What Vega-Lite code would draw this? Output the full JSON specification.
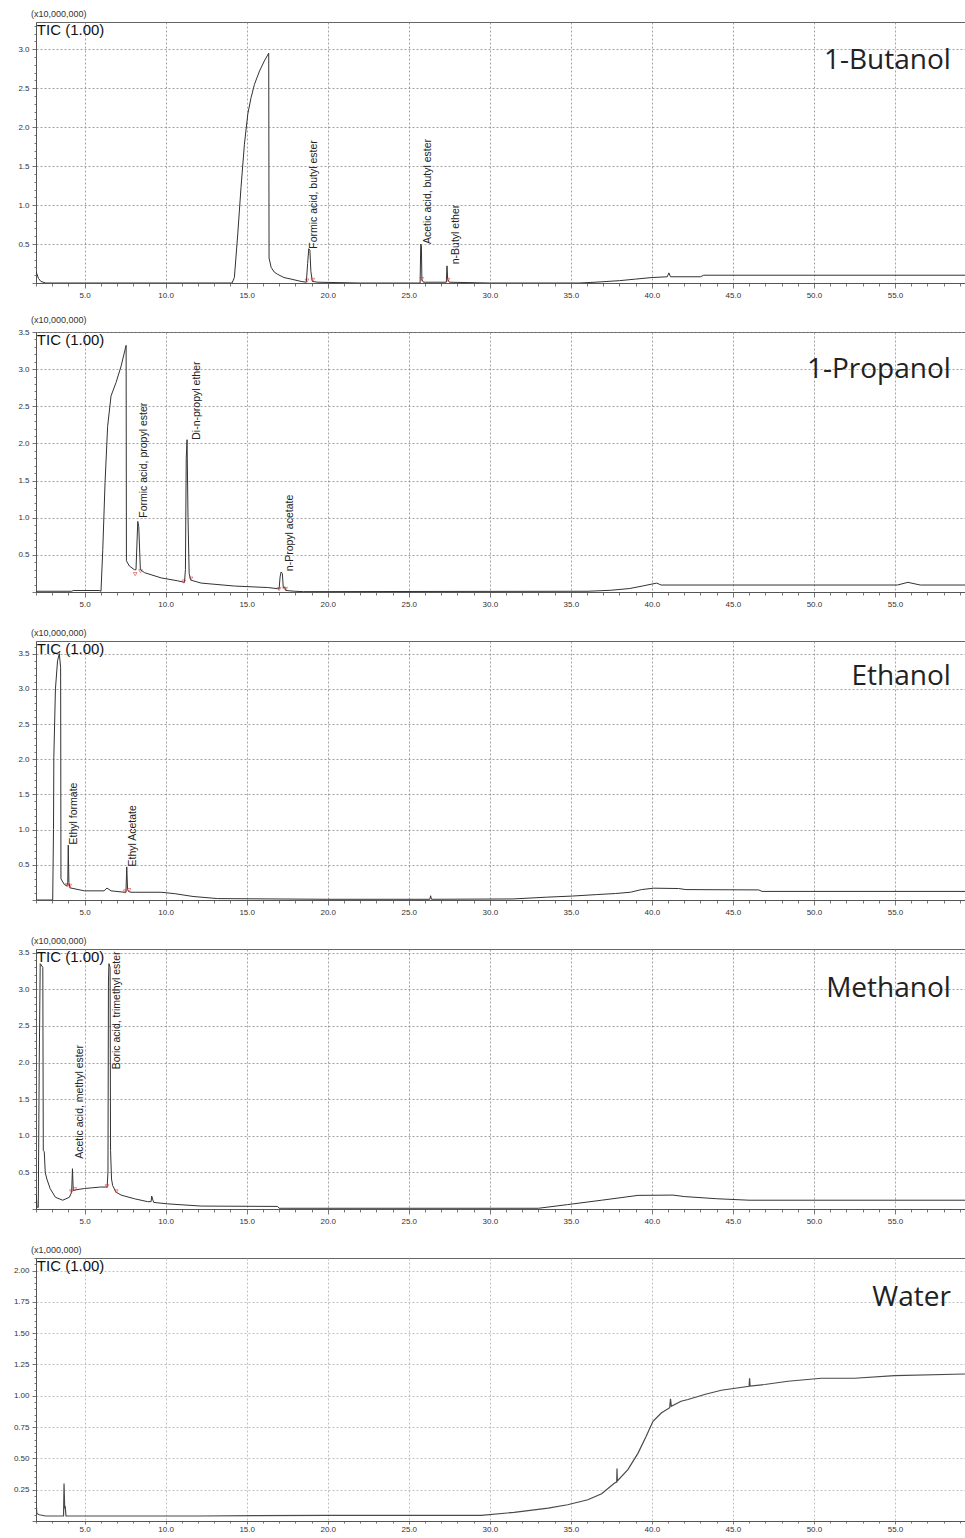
{
  "$schema": "https://vega.github.io/schema/vega-lite/v6.json",
  "background": "white",
  "padding": {"left": 5, "top": 9, "right": 0, "bottom": 0},
  "bounds": "flush",
  "spacing": 49,
  "datasets": {
    "butanol": [
      {"t":2.0,"v":0.15},{"t":2.05,"v":0.12},{"t":2.15,"v":0.06},{"t":2.3,"v":0.02},{"t":2.6,"v":0.0},{"t":6.0,"v":0.0},{"t":12.0,"v":0.0},{"t":14.1,"v":0.0},{"t":14.24,"v":0.07},{"t":14.45,"v":0.63},{"t":14.65,"v":1.23},{"t":14.86,"v":1.78},{"t":15.07,"v":2.17},{"t":15.27,"v":2.38},{"t":15.48,"v":2.55},{"t":15.79,"v":2.72},{"t":16.09,"v":2.85},{"t":16.36,"v":2.95},{"t":16.38,"v":0.32},{"t":16.51,"v":0.2},{"t":16.7,"v":0.14},{"t":16.92,"v":0.11},{"t":17.3,"v":0.07},{"t":17.74,"v":0.05},{"t":18.36,"v":0.02},{"t":18.68,"v":0.01},{"t":18.76,"v":0.25},{"t":18.83,"v":0.44},{"t":18.9,"v":0.42},{"t":18.96,"v":0.15},{"t":19.05,"v":0.02},{"t":19.4,"v":0.01},{"t":22.0,"v":0.0},{"t":25.7,"v":0.0},{"t":25.74,"v":0.5},{"t":25.78,"v":0.48},{"t":25.81,"v":0.04},{"t":25.9,"v":0.01},{"t":27.32,"v":0.01},{"t":27.36,"v":0.22},{"t":27.4,"v":0.05},{"t":27.5,"v":0.01},{"t":30.0,"v":0.0},{"t":35.5,"v":0.0},{"t":36.5,"v":0.01},{"t":38.0,"v":0.03},{"t":39.0,"v":0.05},{"t":40.0,"v":0.07},{"t":40.95,"v":0.08},{"t":41.05,"v":0.13},{"t":41.15,"v":0.08},{"t":43.0,"v":0.08},{"t":43.2,"v":0.1},{"t":50.0,"v":0.1},{"t":60.0,"v":0.1}
    ],
    "butanol_red": [
      {"t":18.72,"v":0.03},{"t":19.08,"v":0.04},{"t":25.8,"v":0.05},{"t":27.42,"v":0.04}
    ],
    "butanol_txt": [
      {"t":19.16,"v":0.44,"label":"Formic acid, butyl ester"},
      {"t":26.2,"v":0.5,"label":"Acetic acid, butyl ester"},
      {"t":27.93,"v":0.24,"label":"n-Butyl ether"}
    ],
    "propanol": [
      {"t":2.0,"v":0.01},{"t":4.2,"v":0.01},{"t":4.3,"v":0.02},{"t":5.9,"v":0.02},{"t":6.01,"v":0.01},{"t":6.12,"v":0.57},{"t":6.26,"v":1.47},{"t":6.42,"v":2.23},{"t":6.63,"v":2.64},{"t":6.94,"v":2.82},{"t":7.25,"v":3.04},{"t":7.56,"v":3.32},{"t":7.58,"v":0.42},{"t":7.76,"v":0.35},{"t":8.07,"v":0.3},{"t":8.17,"v":0.3},{"t":8.28,"v":0.95},{"t":8.34,"v":0.88},{"t":8.44,"v":0.3},{"t":8.7,"v":0.26},{"t":9.72,"v":0.19},{"t":10.75,"v":0.15},{"t":11.16,"v":0.13},{"t":11.22,"v":0.3},{"t":11.27,"v":1.8},{"t":11.32,"v":2.05},{"t":11.38,"v":1.0},{"t":11.45,"v":0.25},{"t":11.55,"v":0.16},{"t":12.19,"v":0.12},{"t":14.25,"v":0.08},{"t":16.3,"v":0.06},{"t":16.91,"v":0.045},{"t":17.0,"v":0.04},{"t":17.06,"v":0.2},{"t":17.12,"v":0.27},{"t":17.2,"v":0.25},{"t":17.26,"v":0.05},{"t":17.34,"v":0.07},{"t":17.42,"v":0.02},{"t":17.95,"v":0.01},{"t":18.5,"v":0.005},{"t":36.06,"v":0.01},{"t":37.46,"v":0.023},{"t":38.64,"v":0.047},{"t":39.5,"v":0.084},{"t":40.3,"v":0.12},{"t":40.57,"v":0.094},{"t":55.15,"v":0.094},{"t":55.8,"v":0.13},{"t":56.56,"v":0.094},{"t":60.0,"v":0.094}
    ],
    "propanol_red": [
      {"t":8.12,"v":0.24},{"t":8.45,"v":0.28},{"t":11.12,"v":0.14},{"t":11.56,"v":0.18},{"t":17.0,"v":0.04},{"t":17.4,"v":0.04}
    ],
    "propanol_txt": [
      {"t":8.69,"v":1.0,"label":"Formic acid, propyl ester"},
      {"t":11.96,"v":2.05,"label":"Di-n-propyl ether"},
      {"t":17.68,"v":0.28,"label":"n-Propyl acetate"}
    ],
    "ethanol": [
      {"t":2.0,"v":0.0},{"t":3.03,"v":0.0},{"t":3.08,"v":1.0},{"t":3.1,"v":2.02},{"t":3.2,"v":3.0},{"t":3.33,"v":3.4},{"t":3.44,"v":3.5},{"t":3.52,"v":3.3},{"t":3.54,"v":0.3},{"t":3.75,"v":0.22},{"t":3.91,"v":0.2},{"t":3.96,"v":0.25},{"t":3.99,"v":0.78},{"t":4.03,"v":0.25},{"t":4.1,"v":0.17},{"t":4.16,"v":0.17},{"t":4.98,"v":0.13},{"t":6.2,"v":0.13},{"t":6.38,"v":0.17},{"t":6.63,"v":0.13},{"t":7.45,"v":0.11},{"t":7.55,"v":0.11},{"t":7.6,"v":0.47},{"t":7.65,"v":0.15},{"t":7.72,"v":0.12},{"t":7.86,"v":0.11},{"t":9.72,"v":0.11},{"t":10.56,"v":0.09},{"t":11.69,"v":0.05},{"t":13.2,"v":0.02},{"t":20.0,"v":0.01},{"t":26.3,"v":0.01},{"t":26.35,"v":0.06},{"t":26.4,"v":0.01},{"t":31.44,"v":0.015},{"t":33.5,"v":0.04},{"t":35.1,"v":0.056},{"t":36.6,"v":0.077},{"t":37.75,"v":0.092},{"t":38.67,"v":0.11},{"t":39.36,"v":0.148},{"t":40.12,"v":0.168},{"t":41.65,"v":0.163},{"t":42.1,"v":0.148},{"t":46.6,"v":0.143},{"t":46.8,"v":0.122},{"t":60.0,"v":0.122}
    ],
    "ethanol_red": [
      {"t":3.92,"v":0.21},{"t":4.08,"v":0.2},{"t":7.5,"v":0.12},{"t":7.74,"v":0.14}
    ],
    "ethanol_txt": [
      {"t":4.33,"v":0.79,"label":"Ethyl formate"},
      {"t":7.97,"v":0.476,"label":"Ethyl Acetate"}
    ],
    "methanol": [
      {"t":2.0,"v":0.0},{"t":2.02,"v":0.19},{"t":2.06,"v":0.03},{"t":2.14,"v":0.02},{"t":2.2,"v":2.0},{"t":2.26,"v":3.35},{"t":2.42,"v":3.3},{"t":2.45,"v":0.8},{"t":2.51,"v":0.78},{"t":2.57,"v":0.5},{"t":2.67,"v":0.41},{"t":2.87,"v":0.28},{"t":3.2,"v":0.16},{"t":3.65,"v":0.12},{"t":4.06,"v":0.16},{"t":4.2,"v":0.23},{"t":4.25,"v":0.55},{"t":4.3,"v":0.25},{"t":4.41,"v":0.26},{"t":5.0,"v":0.28},{"t":5.5,"v":0.29},{"t":6.0,"v":0.3},{"t":6.39,"v":0.3},{"t":6.44,"v":0.5},{"t":6.47,"v":3.1},{"t":6.5,"v":3.35},{"t":6.57,"v":3.3},{"t":6.6,"v":0.8},{"t":6.66,"v":0.41},{"t":6.73,"v":0.32},{"t":6.94,"v":0.23},{"t":7.25,"v":0.19},{"t":8.07,"v":0.14},{"t":8.89,"v":0.1},{"t":9.1,"v":0.1},{"t":9.14,"v":0.176},{"t":9.26,"v":0.09},{"t":10.13,"v":0.07},{"t":12.19,"v":0.04},{"t":16.91,"v":0.035},{"t":17.0,"v":0.01},{"t":33.0,"v":0.01},{"t":34.8,"v":0.06},{"t":36.9,"v":0.12},{"t":38.1,"v":0.155},{"t":39.14,"v":0.186},{"t":41.3,"v":0.19},{"t":42.0,"v":0.17},{"t":44.0,"v":0.14},{"t":46.0,"v":0.12},{"t":60.0,"v":0.12}
    ],
    "methanol_red": [
      {"t":4.18,"v":0.24},{"t":4.4,"v":0.27},{"t":6.38,"v":0.31},{"t":6.95,"v":0.24}
    ],
    "methanol_txt": [
      {"t":4.74,"v":0.686,"label":"Acetic acid, methyl ester"},
      {"t":6.98,"v":1.907,"label":"Boric acid, trimethyl ester"}
    ],
    "water": [
      {"t":2.0,"v":0.17},{"t":2.05,"v":0.06},{"t":2.2,"v":0.05},{"t":2.6,"v":0.04},{"t":3.7,"v":0.04},{"t":3.73,"v":0.3},{"t":3.77,"v":0.1},{"t":3.8,"v":0.12},{"t":3.85,"v":0.04},{"t":8.0,"v":0.04},{"t":12.0,"v":0.04},{"t":20.0,"v":0.045},{"t":29.47,"v":0.045},{"t":31.5,"v":0.069},{"t":33.6,"v":0.103},{"t":34.8,"v":0.13},{"t":36.05,"v":0.17},{"t":36.9,"v":0.218},{"t":37.7,"v":0.303},{"t":37.83,"v":0.31},{"t":37.85,"v":0.42},{"t":37.87,"v":0.32},{"t":38.52,"v":0.41},{"t":39.14,"v":0.54},{"t":39.65,"v":0.676},{"t":40.07,"v":0.796},{"t":40.58,"v":0.862},{"t":41.1,"v":0.905},{"t":41.15,"v":0.975},{"t":41.2,"v":0.916},{"t":41.8,"v":0.956},{"t":42.23,"v":0.97},{"t":43.25,"v":1.01},{"t":44.28,"v":1.044},{"t":46.0,"v":1.076},{"t":46.03,"v":1.14},{"t":46.06,"v":1.078},{"t":46.96,"v":1.09},{"t":48.4,"v":1.116},{"t":50.46,"v":1.14},{"t":52.5,"v":1.14},{"t":54.98,"v":1.16},{"t":60.0,"v":1.176}
    ]
  },
  "vconcat": [
    {
      "width": 940, "height": 261,
      "title": {"text": "(x10,000,000)"},
      "encoding": {
        "x": {"field": "t", "type": "quantitative", "title": null,
          "scale": {"domain": [2, 60], "nice": false, "zero": false},
          "axis": {"values": [2,3,4,5,6,7,8,9,10,11,12,13,14,15,16,17,18,19,20,21,22,23,24,25,26,27,28,29,30,31,32,33,34,35,36,37,38,39,40,41,42,43,44,45,46,47,48,49,50,51,52,53,54,55,56,57,58,59],
            "labelExpr": "datum.value % 5 === 0 ? format(datum.value, '.1f') : ''",
            "tickSize": {"condition": {"test": "datum.value % 5 === 0", "value": 5}, "value": 3},
            "gridOpacity": {"condition": {"test": "datum.value % 5 === 0", "value": 1}, "value": 0}}},
        "y": {"field": "v", "type": "quantitative", "title": null,
          "scale": {"domain": [0, 3.35], "nice": false},
          "axis": {"values": [0,0.1,0.2,0.3,0.4,0.5,0.6,0.7,0.8,0.9,1.0,1.1,1.2,1.3,1.4,1.5,1.6,1.7,1.8,1.9,2.0,2.1,2.2,2.3,2.4,2.5,2.6,2.7,2.8,2.9,3.0,3.1,3.2,3.3],
            "labelExpr": "datum.value > 0.01 && round(datum.value * 10) % 5 === 0 ? format(datum.value, '.1f') : ''",
            "tickSize": {"condition": {"test": "round(datum.value * 10) % 5 === 0", "value": 4}, "value": 2},
            "gridOpacity": {"condition": {"test": "datum.value > 0.01 && round(datum.value * 10) % 5 === 0", "value": 1}, "value": 0}}}
      },
      "layer": [
        {"data": {"name": "butanol"}, "mark": {"type": "line", "clip": true, "color": "#333333", "strokeWidth": 1}},
        {"data": {"name": "butanol_red"}, "mark": {"type": "point", "shape": "triangle-down", "filled": false, "color": "#e03030", "size": 14, "strokeWidth": 0.8}},
        {"data": {"name": "butanol_txt"}, "mark": {"type": "text", "angle": 270, "align": "left", "baseline": "middle", "font": "Liberation Sans", "fontSize": 10.5, "color": "#222222"}, "encoding": {"text": {"field": "label"}}},
        {"data": {"values": [{"t": 2.05, "v": 3.35, "label": "TIC (1.00)"}]}, "mark": {"type": "text", "align": "left", "baseline": "top", "font": "Liberation Sans", "fontSize": 15, "color": "#111111", "dy": 1}, "encoding": {"text": {"field": "label"}}},
        {"data": {"values": [{"t": 58.45, "v": 2.75, "label": "1-Butanol"}]}, "mark": {"type": "text", "align": "right", "baseline": "alphabetic", "font": "Open Sans", "fontSize": 28, "color": "#222222"}, "encoding": {"text": {"field": "label"}}}
      ]
    },
    {
      "width": 940, "height": 260,
      "title": {"text": "(x10,000,000)"},
      "encoding": {
        "x": {"field": "t", "type": "quantitative", "title": null,
          "scale": {"domain": [2, 60], "nice": false, "zero": false},
          "axis": {"values": [2,3,4,5,6,7,8,9,10,11,12,13,14,15,16,17,18,19,20,21,22,23,24,25,26,27,28,29,30,31,32,33,34,35,36,37,38,39,40,41,42,43,44,45,46,47,48,49,50,51,52,53,54,55,56,57,58,59],
            "labelExpr": "datum.value % 5 === 0 ? format(datum.value, '.1f') : ''",
            "tickSize": {"condition": {"test": "datum.value % 5 === 0", "value": 5}, "value": 3},
            "gridOpacity": {"condition": {"test": "datum.value % 5 === 0", "value": 1}, "value": 0}}},
        "y": {"field": "v", "type": "quantitative", "title": null,
          "scale": {"domain": [0, 3.5], "nice": false},
          "axis": {"values": [0,0.1,0.2,0.3,0.4,0.5,0.6,0.7,0.8,0.9,1.0,1.1,1.2,1.3,1.4,1.5,1.6,1.7,1.8,1.9,2.0,2.1,2.2,2.3,2.4,2.5,2.6,2.7,2.8,2.9,3.0,3.1,3.2,3.3,3.4,3.5],
            "labelExpr": "datum.value > 0.01 && round(datum.value * 10) % 5 === 0 ? format(datum.value, '.1f') : ''",
            "tickSize": {"condition": {"test": "round(datum.value * 10) % 5 === 0", "value": 4}, "value": 2},
            "gridOpacity": {"condition": {"test": "datum.value > 0.01 && round(datum.value * 10) % 5 === 0", "value": 1}, "value": 0}}}
      },
      "layer": [
        {"data": {"name": "propanol"}, "mark": {"type": "line", "clip": true, "color": "#333333", "strokeWidth": 1}},
        {"data": {"name": "propanol_red"}, "mark": {"type": "point", "shape": "triangle-down", "filled": false, "color": "#e03030", "size": 14, "strokeWidth": 0.8}},
        {"data": {"name": "propanol_txt"}, "mark": {"type": "text", "angle": 270, "align": "left", "baseline": "middle", "font": "Liberation Sans", "fontSize": 10.5, "color": "#222222"}, "encoding": {"text": {"field": "label"}}},
        {"data": {"values": [{"t": 2.05, "v": 3.5, "label": "TIC (1.00)"}]}, "mark": {"type": "text", "align": "left", "baseline": "top", "font": "Liberation Sans", "fontSize": 15, "color": "#111111", "dy": 1}, "encoding": {"text": {"field": "label"}}},
        {"data": {"values": [{"t": 58.45, "v": 2.88, "label": "1-Propanol"}]}, "mark": {"type": "text", "align": "right", "baseline": "alphabetic", "font": "Open Sans", "fontSize": 28, "color": "#222222"}, "encoding": {"text": {"field": "label"}}}
      ]
    },
    {
      "width": 940, "height": 259,
      "title": {"text": "(x10,000,000)"},
      "encoding": {
        "x": {"field": "t", "type": "quantitative", "title": null,
          "scale": {"domain": [2, 60], "nice": false, "zero": false},
          "axis": {"values": [2,3,4,5,6,7,8,9,10,11,12,13,14,15,16,17,18,19,20,21,22,23,24,25,26,27,28,29,30,31,32,33,34,35,36,37,38,39,40,41,42,43,44,45,46,47,48,49,50,51,52,53,54,55,56,57,58,59],
            "labelExpr": "datum.value % 5 === 0 ? format(datum.value, '.1f') : ''",
            "tickSize": {"condition": {"test": "datum.value % 5 === 0", "value": 5}, "value": 3},
            "gridOpacity": {"condition": {"test": "datum.value % 5 === 0", "value": 1}, "value": 0}}},
        "y": {"field": "v", "type": "quantitative", "title": null,
          "scale": {"domain": [0, 3.68], "nice": false},
          "axis": {"values": [0,0.1,0.2,0.3,0.4,0.5,0.6,0.7,0.8,0.9,1.0,1.1,1.2,1.3,1.4,1.5,1.6,1.7,1.8,1.9,2.0,2.1,2.2,2.3,2.4,2.5,2.6,2.7,2.8,2.9,3.0,3.1,3.2,3.3,3.4,3.5,3.6],
            "labelExpr": "datum.value > 0.01 && round(datum.value * 10) % 5 === 0 ? format(datum.value, '.1f') : ''",
            "tickSize": {"condition": {"test": "round(datum.value * 10) % 5 === 0", "value": 4}, "value": 2},
            "gridOpacity": {"condition": {"test": "datum.value > 0.01 && round(datum.value * 10) % 5 === 0", "value": 1}, "value": 0}}}
      },
      "layer": [
        {"data": {"name": "ethanol"}, "mark": {"type": "line", "clip": true, "color": "#333333", "strokeWidth": 1}},
        {"data": {"name": "ethanol_red"}, "mark": {"type": "point", "shape": "triangle-down", "filled": false, "color": "#e03030", "size": 14, "strokeWidth": 0.8}},
        {"data": {"name": "ethanol_txt"}, "mark": {"type": "text", "angle": 270, "align": "left", "baseline": "middle", "font": "Liberation Sans", "fontSize": 10.5, "color": "#222222"}, "encoding": {"text": {"field": "label"}}},
        {"data": {"values": [{"t": 2.05, "v": 3.68, "label": "TIC (1.00)"}]}, "mark": {"type": "text", "align": "left", "baseline": "top", "font": "Liberation Sans", "fontSize": 15, "color": "#111111", "dy": 1}, "encoding": {"text": {"field": "label"}}},
        {"data": {"values": [{"t": 58.45, "v": 3.05, "label": "Ethanol"}]}, "mark": {"type": "text", "align": "right", "baseline": "alphabetic", "font": "Open Sans", "fontSize": 28, "color": "#222222"}, "encoding": {"text": {"field": "label"}}}
      ]
    },
    {
      "width": 940, "height": 260,
      "title": {"text": "(x10,000,000)"},
      "encoding": {
        "x": {"field": "t", "type": "quantitative", "title": null,
          "scale": {"domain": [2, 60], "nice": false, "zero": false},
          "axis": {"values": [2,3,4,5,6,7,8,9,10,11,12,13,14,15,16,17,18,19,20,21,22,23,24,25,26,27,28,29,30,31,32,33,34,35,36,37,38,39,40,41,42,43,44,45,46,47,48,49,50,51,52,53,54,55,56,57,58,59],
            "labelExpr": "datum.value % 5 === 0 ? format(datum.value, '.1f') : ''",
            "tickSize": {"condition": {"test": "datum.value % 5 === 0", "value": 5}, "value": 3},
            "gridOpacity": {"condition": {"test": "datum.value % 5 === 0", "value": 1}, "value": 0}}},
        "y": {"field": "v", "type": "quantitative", "title": null,
          "scale": {"domain": [0, 3.55], "nice": false},
          "axis": {"values": [0,0.1,0.2,0.3,0.4,0.5,0.6,0.7,0.8,0.9,1.0,1.1,1.2,1.3,1.4,1.5,1.6,1.7,1.8,1.9,2.0,2.1,2.2,2.3,2.4,2.5,2.6,2.7,2.8,2.9,3.0,3.1,3.2,3.3,3.4,3.5],
            "labelExpr": "datum.value > 0.01 && round(datum.value * 10) % 5 === 0 ? format(datum.value, '.1f') : ''",
            "tickSize": {"condition": {"test": "round(datum.value * 10) % 5 === 0", "value": 4}, "value": 2},
            "gridOpacity": {"condition": {"test": "datum.value > 0.01 && round(datum.value * 10) % 5 === 0", "value": 1}, "value": 0}}}
      },
      "layer": [
        {"data": {"name": "methanol"}, "mark": {"type": "line", "clip": true, "color": "#333333", "strokeWidth": 1}},
        {"data": {"name": "methanol_red"}, "mark": {"type": "point", "shape": "triangle-down", "filled": false, "color": "#e03030", "size": 14, "strokeWidth": 0.8}},
        {"data": {"name": "methanol_txt"}, "mark": {"type": "text", "angle": 270, "align": "left", "baseline": "middle", "font": "Liberation Sans", "fontSize": 10.5, "color": "#222222", "clip": true}, "encoding": {"text": {"field": "label"}}},
        {"data": {"values": [{"t": 2.05, "v": 3.55, "label": "TIC (1.00)"}]}, "mark": {"type": "text", "align": "left", "baseline": "top", "font": "Liberation Sans", "fontSize": 15, "color": "#111111", "dy": 1}, "encoding": {"text": {"field": "label"}}},
        {"data": {"values": [{"t": 58.45, "v": 2.89, "label": "Methanol"}]}, "mark": {"type": "text", "align": "right", "baseline": "alphabetic", "font": "Open Sans", "fontSize": 28, "color": "#222222"}, "encoding": {"text": {"field": "label"}}}
      ]
    },
    {
      "width": 940, "height": 263,
      "title": {"text": "(x1,000,000)"},
      "encoding": {
        "x": {"field": "t", "type": "quantitative", "title": null,
          "scale": {"domain": [2, 60], "nice": false, "zero": false},
          "axis": {"values": [2,3,4,5,6,7,8,9,10,11,12,13,14,15,16,17,18,19,20,21,22,23,24,25,26,27,28,29,30,31,32,33,34,35,36,37,38,39,40,41,42,43,44,45,46,47,48,49,50,51,52,53,54,55,56,57,58,59],
            "labelExpr": "datum.value % 5 === 0 ? format(datum.value, '.1f') : ''",
            "tickSize": {"condition": {"test": "datum.value % 5 === 0", "value": 3}, "value": 2},
            "labelPadding": 1,
            "gridOpacity": {"condition": {"test": "datum.value % 5 === 0", "value": 1}, "value": 0},
            "gridColor": "#b0b0b0"}},
        "y": {"field": "v", "type": "quantitative", "title": null,
          "scale": {"domain": [0, 2.1], "nice": false},
          "axis": {"values": [0,0.05,0.1,0.15,0.2,0.25,0.3,0.35,0.4,0.45,0.5,0.55,0.6,0.65,0.7,0.75,0.8,0.85,0.9,0.95,1.0,1.05,1.1,1.15,1.2,1.25,1.3,1.35,1.4,1.45,1.5,1.55,1.6,1.65,1.7,1.75,1.8,1.85,1.9,1.95,2.0,2.05,2.1],
            "labelExpr": "datum.value > 0.01 && round(datum.value * 100) % 25 === 0 ? format(datum.value, '.2f') : ''",
            "tickSize": {"condition": {"test": "round(datum.value * 100) % 25 === 0", "value": 4}, "value": 2},
            "gridOpacity": {"condition": {"test": "datum.value > 0.01 && round(datum.value * 100) % 25 === 0", "value": 1}, "value": 0},
            "gridColor": "#b0b0b0"}}
      },
      "layer": [
        {"data": {"name": "water"}, "mark": {"type": "line", "clip": true, "color": "#4a4a4a", "strokeWidth": 1.2}},
        {"data": {"values": [{"t": 2.05, "v": 2.1, "label": "TIC (1.00)"}]}, "mark": {"type": "text", "align": "left", "baseline": "top", "font": "Liberation Sans", "fontSize": 15, "color": "#111111", "dy": 1}, "encoding": {"text": {"field": "label"}}},
        {"data": {"values": [{"t": 58.45, "v": 1.72, "label": "Water"}]}, "mark": {"type": "text", "align": "right", "baseline": "alphabetic", "font": "Open Sans", "fontSize": 28, "color": "#222222"}, "encoding": {"text": {"field": "label"}}}
      ]
    }
  ],
  "config": {
    "view": {"stroke": "#666666", "strokeWidth": 1},
    "axis": {"domainColor": "#555555", "tickColor": "#555555", "labelFont": "Liberation Sans", "labelFontSize": 8, "labelColor": "#333333", "gridColor": "#8a8a8a", "gridDash": [2, 2], "gridWidth": 0.8, "tickWidth": 0.8, "labelPadding": 3},
    "axisY": {"minExtent": 30, "maxExtent": 30},
    "title": {"anchor": "start", "frame": "group", "fontSize": 9, "font": "Liberation Sans", "fontWeight": "normal", "color": "#333333", "offset": 3, "dx": -5}
  }
}
